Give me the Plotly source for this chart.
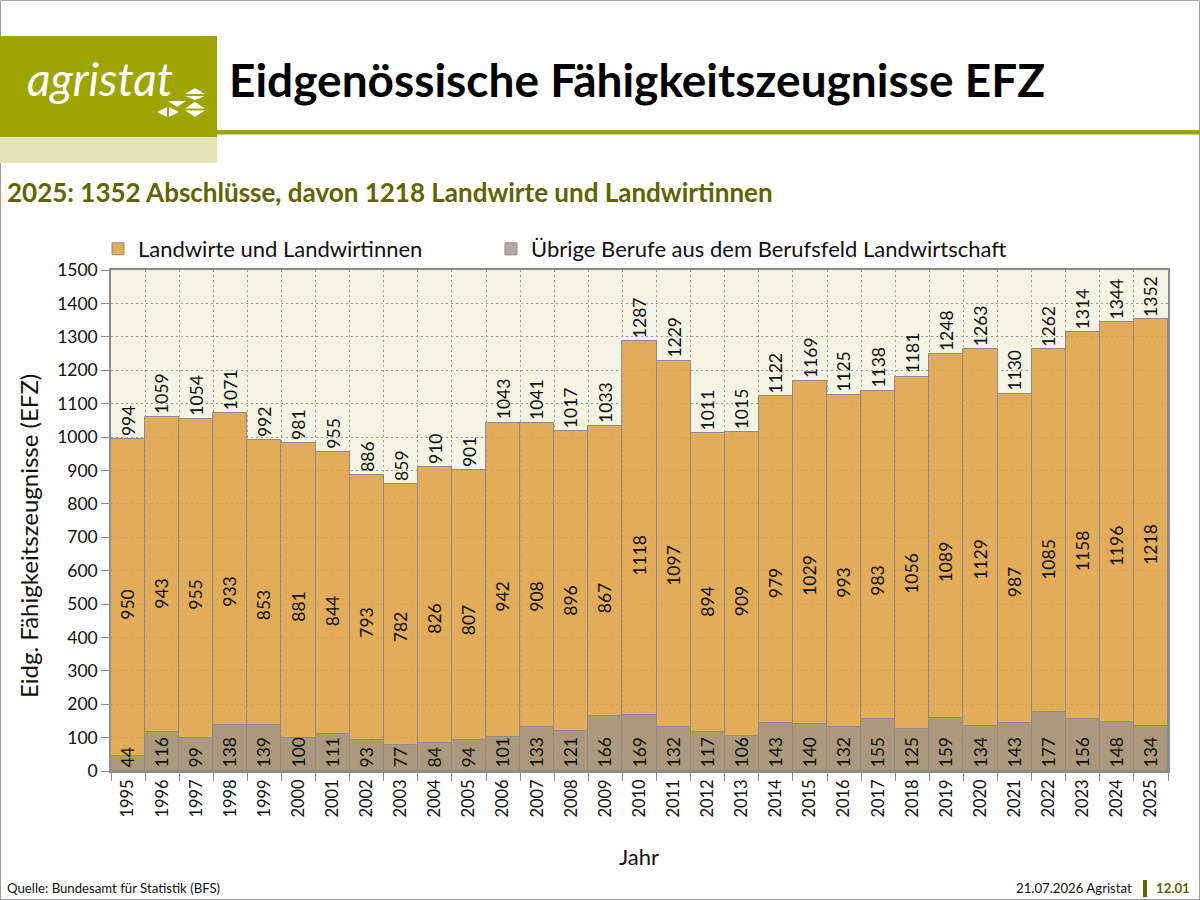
import plotly.graph_objects as go

years = [str(y) for y in range(1995, 2026)]
landwirte = [950, 943, 955, 933, 853, 881, 844, 793, 782, 826, 807, 942, 908, 896, 867,
             1118, 1097, 894, 909, 979, 1029, 993, 983, 1056, 1089, 1129, 987, 1085, 1158, 1196, 1218]
uebrige = [44, 116, 99, 138, 139, 100, 111, 93, 77, 84, 94, 101, 133, 121, 166,
           169, 132, 117, 106, 143, 140, 132, 155, 125, 159, 134, 143, 177, 156, 148, 134]
totals = [994, 1059, 1054, 1071, 992, 981, 955, 886, 859, 910, 901, 1043, 1041, 1017, 1033,
          1287, 1229, 1011, 1015, 1122, 1169, 1125, 1138, 1181, 1248, 1263, 1130, 1262, 1314, 1344, 1352]

W, H = 1200, 900
L, R, T, B = 111, 1168, 270, 771
FONT = "Lato"
OLIVE = "#9EA400"
DARK_OLIVE = "#5F6400"
LABEL_SIZE = 17.5


def px(x):
    return (x - L) / (R - L)


def py(y):
    return (B - y) / (B - T)


fig = go.Figure()
fig.add_trace(go.Bar(
    x=years, y=totals, name="Landwirte und Landwirtinnen",
    marker=dict(color="rgba(222,159,68,0.86)", line=dict(color="#8C8C8C", width=1)),
    text=[str(v) for v in landwirte], textposition="inside", insidetextanchor="middle",
    textangle=-90, textfont=dict(family=FONT, size=LABEL_SIZE, color="#111111"),
    hoverinfo="skip", legend="legend",
))
fig.add_trace(go.Bar(
    x=years, y=uebrige, name="Übrige Berufe aus dem Berufsfeld Landwirtschaft",
    marker=dict(color="rgba(156,146,134,0.77)", line=dict(color="#8C8C8C", width=1)),
    text=[str(v) for v in uebrige], textposition="inside", insidetextanchor="start",
    textangle=-90, textfont=dict(family=FONT, size=LABEL_SIZE, color="#111111"),
    hoverinfo="skip", legend="legend2",
))

annotations = []
for i, tot in enumerate(totals):
    annotations.append(dict(
        x=i, y=tot, xref="x", yref="y", text=str(tot), showarrow=False,
        textangle=-90, yanchor="bottom", xanchor="center", yshift=1,
        font=dict(family=FONT, size=LABEL_SIZE, color="#111111"),
    ))

# header texts
annotations += [
    dict(x=px(100), y=py(79), xref="paper", yref="paper", text="<i>agristat</i>", showarrow=False,
         xanchor="center", yanchor="middle", font=dict(family=FONT, size=46, color="white")),
    dict(x=px(227), y=py(80), xref="paper", yref="paper", text="<b>Eidgenössische Fähigkeitszeugnisse EFZ</b>",
         showarrow=False, xanchor="left", yanchor="middle", font=dict(family=FONT, size=46, color="black")),
    dict(x=px(5), y=py(192), xref="paper", yref="paper",
         text="<b>2025: 1352 Abschlüsse, davon 1218 Landwirte und Landwirtinnen</b>",
         showarrow=False, xanchor="left", yanchor="middle", font=dict(family=FONT, size=26, color=DARK_OLIVE)),
    dict(x=px(28), y=py(536), xref="paper", yref="paper", text="Eidg. Fähigkeitszeugnisse (EFZ)",
         showarrow=False, textangle=-90, xanchor="center", yanchor="middle",
         font=dict(family=FONT, size=24, color="#111111")),
    dict(x=px(639), y=py(856), xref="paper", yref="paper", text="Jahr",
         showarrow=False, xanchor="center", yanchor="middle", font=dict(family=FONT, size=22, color="#111111")),
    dict(x=px(5), y=py(888), xref="paper", yref="paper", text="Quelle: Bundesamt für Statistik (BFS)",
         showarrow=False, xanchor="left", yanchor="middle", font=dict(family=FONT, size=13.2, color="#111111")),
    dict(x=px(1134), y=py(888), xref="paper", yref="paper", text="21.07.2026 Agristat",
         showarrow=False, xanchor="right", yanchor="middle", font=dict(family=FONT, size=13.2, color="#111111")),
    dict(x=px(1192), y=py(888), xref="paper", yref="paper", text="<b>12.01</b>",
         showarrow=False, xanchor="right", yanchor="middle", font=dict(family=FONT, size=13.2, color=DARK_OLIVE)),
]


def rect(x0, y0, x1, y1, fill, line=None, lw=0):
    return dict(type="rect", xref="paper", yref="paper", x0=px(x0), x1=px(x1), y0=py(y0), y1=py(y1),
                fillcolor=fill, line=dict(color=line or fill, width=lw), layer="above")


def tri(pts, color="white"):
    path = "M " + " L ".join(f"{px(a)},{py(b)}" for a, b in pts) + " Z"
    return dict(type="path", xref="paper", yref="paper", path=path, fillcolor=color,
                line=dict(width=0), layer="above")


shapes = [
    dict(type="rect", xref="paper", yref="paper", x0=px(0.5), x1=px(1199.5), y0=py(0.5), y1=py(899.5),
         fillcolor="rgba(0,0,0,0)", line=dict(color="#A0A0A0", width=1), layer="above"),
    rect(0, 36, 217, 137, OLIVE),
    rect(0, 137, 217, 163, "#E2E5BA"),
    rect(217, 130, 1200, 134.5, OLIVE),
    rect(1143, 880, 1147, 897, DARK_OLIVE),
    tri([(185, 94), (205, 94), (195, 88)]),
    tri([(185, 96), (205, 96), (195, 100)]),
    tri([(168, 101), (186, 101), (177, 107)]),
    tri([(167, 107), (167, 117), (157, 112)]),
    tri([(169, 107), (169, 117), (179, 112)]),
    tri([(185, 108.5), (205, 108.5), (195, 102)]),
    tri([(185, 110.5), (205, 110.5), (195, 117)]),
]

legend_font = dict(family=FONT, size=22, color="#111111")
fig.update_layout(
    width=W, height=H,
    margin=dict(l=L, r=W - R, t=T, b=H - B, autoexpand=False),
    paper_bgcolor="white", plot_bgcolor="#F4F4E4",
    barmode="overlay", bargap=0,
    font=dict(family=FONT, size=17, color="#111111"),
    uniformtext=dict(minsize=LABEL_SIZE, mode="show"),
    showlegend=True,
    legend=dict(orientation="h", x=px(98), xanchor="left", y=1.0, yanchor="bottom",
                font=legend_font, bgcolor="rgba(0,0,0,0)"),
    legend2=dict(orientation="h", x=px(491), xanchor="left", y=1.0, yanchor="bottom",
                 font=legend_font, bgcolor="rgba(0,0,0,0)"),
    annotations=annotations, shapes=shapes,
    hovermode=False,
)
fig.update_xaxes(
    type="category", tickson="boundaries", ticks="outside", ticklen=8, tickcolor="#8C8C8C",
    tickangle=-90, tickfont=dict(family=FONT, size=16.5, color="#111111"),
    showgrid=True, gridcolor="#9A9A9A", griddash="2px,3px", gridwidth=1,
    showline=True, linecolor="#8C8C8C", linewidth=1.5, mirror=True,
    range=[-0.5, len(years) - 0.5], fixedrange=True,
)
fig.update_yaxes(
    range=[0, 1500], dtick=100, ticks="outside", ticklen=8, tickcolor="#8C8C8C",
    tickfont=dict(family=FONT, size=17.5, color="#111111"),
    showgrid=True, gridcolor="#9A9A9A", griddash="2px,3px", gridwidth=1,
    showline=True, linecolor="#8C8C8C", linewidth=1.5, mirror=True,
    zeroline=False, fixedrange=True,
)

fig.write_html("out.html", config={"displayModeBar": False},
               post_script="document.body.style.margin='0';document.body.style.padding='0';")
